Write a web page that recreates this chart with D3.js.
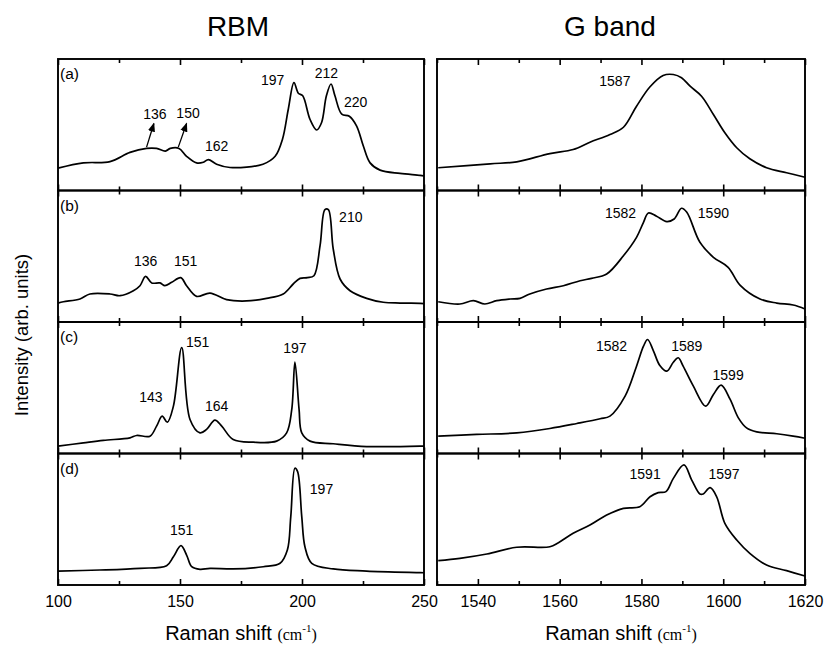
<!DOCTYPE html>
<html>
<head>
<meta charset="utf-8">
<script src="https://cdn.jsdelivr.net/npm/d3@7"></script>
<style>
  body { margin: 0; background: #fff; }
  text { font-family: Arial, "Liberation Sans", sans-serif; fill: #000; }
</style>
</head>
<body>
<div id="chart"></div>
<script>
// RBM spectra, [Raman shift, intensity (arb.)]
const rbmA = [[100,17],[110.4,21],[121.3,22],[129.5,29],[136.3,32],[140.4,32],[144,30],[146,32],[149.6,32],
  [152.7,26],[156.8,21],[159.6,21.5],[161.6,23.5],[165,20],[170.5,17.5],[184,20],[189,26],[192,39],[194.4,62],
  [196.7,82],[198.5,74],[200.3,72],[203.3,54],[206,46],[208,51.5],[210,72],[211.9,81],[213.5,72],[216.3,58],
  [219.4,56.5],[222.4,49],[225.1,34],[227.9,21],[232,15.5],[240.2,13],[248.4,11.5],[250,11]];
const rbmB = [[100,14.4],[102.2,15.4],[109,17.5],[113.1,21.3],[121.3,21.3],[125.4,20],[130.9,23.8],[133.6,27.6],
  [135.9,34.7],[138.4,29.7],[141.8,29.7],[143.8,27.6],[146.6,30.2],[150.3,33.7],[152.7,27.6],[156.8,19.5],
  [162.3,22],[169.1,17],[177.3,16],[185.5,18],[192.3,21.3],[196.4,28.9],[199.2,33.2],[202.2,33.7],[204.9,35.2],
  [207.4,58],[209.4,85.4],[210.8,85.4],[212.8,55.5],[215.6,32.7],[219.7,23.8],[226.5,18],[233.3,15],
  [240.2,14.4],[248.4,14.2],[250,14]];
const rbmC = [[100,5.6],[110.4,8.1],[118.6,10],[129.5,11.9],[132.2,13.7],[137.7,13.2],[140.4,20.8],[142.7,28.4],
  [144.8,23.8],[147.3,36],[150.7,80.6],[154.1,25.9],[158.2,15.7],[160.9,18.3],[164.3,25.4],[167.1,20.8],
  [171.8,10.6],[180,8.6],[189.6,9.4],[193.7,15.7],[195.8,33.5],[197.1,69.6],[198.8,33.5],[199.9,15.7],
  [203.3,9.4],[212.8,7.4],[226.5,5.3],[248.4,5.6],[250,5.6]];
const rbmD = [[100,10.6],[117.2,11.4],[133.6,12.7],[144.5,14.7],[147.3,21.5],[150.4,29.9],[152.7,22.8],
  [154.8,13.9],[158.2,11.9],[162.3,12.7],[171.8,12.2],[184.1,13.9],[191,16.5],[194,26.6],[195.4,52],
  [197.1,88.8],[198.2,86.2],[199.9,52],[201.2,29.1],[204,16.5],[212.8,12.2],[226.5,10.6],[248.4,9.4],[250,9.3]];

// G band spectra
const gA = [[1530.3,17.3],[1543,20.3],[1549.5,21.8],[1557.6,28.1],[1563.3,31.2],[1567.4,36.7],[1572.3,42.6],
  [1575.6,48.1],[1578.8,64.1],[1582.1,78.9],[1585.3,87.5],[1587.8,88.2],[1589.8,85.7],[1591.9,79.3],
  [1594.7,71.7],[1597.6,57.8],[1600.4,43.9],[1603.3,32.5],[1606.5,24.1],[1610.6,17.3],[1615.5,13.5],[1620,10.1]];
const gB = [[1530.3,15.4],[1535.6,13.7],[1538.9,16.2],[1541.7,13.7],[1544.6,16.2],[1547.9,17.5],[1550.3,18],
  [1552.7,21.3],[1556.8,25.1],[1560.9,27.6],[1565,31.4],[1567.8,33.2],[1571.5,36.5],[1575.6,50.4],
  [1578.8,64.4],[1580.5,75.8],[1581.7,82.9],[1583.7,80.4],[1586.2,76.3],[1588,78.3],[1589.8,86.5],
  [1591.1,83.4],[1594.3,60.6],[1597.6,49.2],[1601.2,41.6],[1604.1,28.1],[1609,17.5],[1613.1,14.4],
  [1617.1,12.9],[1620,9.9]];
const gC = [[1530.3,13.2],[1539.7,14.5],[1549.5,15.7],[1557.6,19],[1564.2,22.8],[1569.9,26.4],[1572.3,28.4],
  [1576,43.6],[1578.8,66.4],[1580.5,81.6],[1581.5,86.7],[1582.9,78.3],[1584.5,66.9],[1586.2,62.6],
  [1587.8,69.4],[1589,72.8],[1590.2,66.4],[1592.7,51.2],[1595.7,36],[1597.6,44.9],[1599.5,52],[1601.7,41.1],
  [1603.7,27.1],[1605.7,19.5],[1608.2,16.5],[1613.1,15],[1617.1,13.2],[1620,11.6]];
const gD = [[1530.3,18.5],[1535.6,20.3],[1542.2,23.6],[1549.5,28.7],[1557.6,29.1],[1559.7,32.2],[1563.3,39.3],
  [1567.4,45.6],[1571.5,53.2],[1575.6,58.3],[1579.6,59.5],[1582.1,67.1],[1584.1,70.2],[1586,71],
  [1587.8,81.1],[1590.4,91.3],[1592.3,79.8],[1594.3,69.2],[1595.1,69.2],[1596.8,74],[1598.4,67.1],
  [1600.4,46.9],[1603.3,34.2],[1606.5,24.1],[1610.6,15.2],[1615.5,10.9],[1620,6.8]];

const panelNames = ["(a)", "(b)", "(c)", "(d)"];
const rbmTicksMajor = [100, 150, 200, 250];
const rbmTicksMinor = [125, 175, 225];
const gTicksMajor = [1540, 1560, 1580, 1600, 1620];
const gTicksMinor = [1530, 1550, 1570, 1590, 1610];

// peak labels: [panel, text, shift, intensity]
const rbmLabels = [[0,"136",139.7,58],[0,"150",153.3,59],[0,"162",165,34],[0,"197",188,84],[0,"212",210,89],
  [0,"220",222,67],[1,"136",135.9,46],[1,"151",152.3,46],[1,"210",220,80],[2,"143",138.1,43],
  [2,"151",157.2,85],[2,"164",165,36],[2,"197",197.1,80],[3,"151",150.7,42],[3,"197",208,73]];
const rbmArrows = [[0,136.3,33,139.3,51],[0,149.3,33,152.7,51]];
const gLabels = [[0,"1587",1573.5,83],[1,"1582",1574.9,83],[1,"1590",1597.6,83],[2,"1582",1572.7,82],
  [2,"1589",1591.1,82],[2,"1599",1601.2,60],[3,"1591",1580.9,84],[3,"1597",1600.2,84]];

const width = 824, height = 647;
const top0 = 59, panelH = 131.5;

const svg = d3.select("#chart").append("svg")
  .attr("width", width).attr("height", height);

svg.append("defs").append("marker")
  .attr("id", "arrow").attr("viewBox", "0 0 10 10")
  .attr("refX", 9).attr("refY", 5)
  .attr("markerWidth", 7).attr("markerHeight", 7)
  .attr("orient", "auto")
  .append("path").attr("d", "M0,1 L10,5 L0,9 Z").attr("fill", "#000");

const xRbm = d3.scaleLinear().domain([100, 250]).range([58, 424]);
const xG = d3.scaleLinear().domain([1530, 1620]).range([437, 805]);

function drawColumn(x, series, major, minor, labels, arrows, title, titleX) {
  series.forEach((data, i) => {
    const y0 = top0 + i * panelH, y1 = y0 + panelH;
    const y = d3.scaleLinear().domain([0, 100]).range([y1, y0]);
    const g = svg.append("g");

    const line = d3.line()
      .x(d => x(d[0])).y(d => y(d[1]))
      .curve(d3.curveCatmullRom.alpha(0.5));
    g.append("path").datum(data)
      .attr("d", line).attr("fill", "none")
      .attr("stroke", "#000").attr("stroke-width", 1.7);

    // ticks pointing inward from top and bottom
    [[major, 6], [minor, 4]].forEach(([vals, len]) => {
      g.append("g").attr("transform", `translate(0,${y0})`)
        .call(d3.axisTop(x).tickValues(vals).tickSize(-len).tickFormat(""))
        .call(a => a.select(".domain").remove());
      const bottom = g.append("g").attr("transform", `translate(0,${y1})`)
        .call(d3.axisBottom(x).tickValues(vals).tickSize(-len)
          .tickFormat(i === 3 && len === 6 ? d3.format("d") : ""));
      bottom.select(".domain").remove();
    });
    g.selectAll(".tick line").attr("stroke", "#000").attr("stroke-width", 1.6);

    g.append("rect")
      .attr("x", x.range()[0]).attr("y", y0)
      .attr("width", x.range()[1] - x.range()[0]).attr("height", panelH)
      .attr("fill", "none").attr("stroke", "#000").attr("stroke-width", 1.9);

    if (x === xRbm) {
      g.append("text").attr("x", x.range()[0] + 2).attr("y", y0 + 20)
        .attr("font-size", 15.5).text(panelNames[i]);
    }

    labels.filter(l => l[0] === i).forEach(l => {
      g.append("text").attr("x", x(l[2])).attr("y", y(l[3]))
        .attr("dy", "0.35em").attr("text-anchor", "middle")
        .attr("font-size", 14).text(l[1]);
    });
    arrows.filter(a => a[0] === i).forEach(a => {
      g.append("line")
        .attr("x1", x(a[1])).attr("y1", y(a[2]))
        .attr("x2", x(a[3])).attr("y2", y(a[4]))
        .attr("stroke", "#000").attr("stroke-width", 1.3)
        .attr("marker-end", "url(#arrow)");
    });
  });

  svg.append("text").attr("x", titleX).attr("y", 36)
    .attr("text-anchor", "middle").attr("font-size", 28).text(title);

  const cx = (x.range()[0] + x.range()[1]) / 2;
  const xl = svg.append("text").attr("x", cx).attr("y", 640)
    .attr("text-anchor", "middle").attr("font-size", 20);
  xl.append("tspan").text("Raman shift ");
  xl.append("tspan").attr("font-family", "'Liberation Serif', 'DejaVu Serif', serif")
    .attr("font-size", 16).text("(cm");
  xl.append("tspan").attr("font-family", "'Liberation Serif', serif")
    .attr("font-size", 11).attr("dy", -8).text("-1");
  xl.append("tspan").attr("font-family", "'Liberation Serif', serif")
    .attr("font-size", 16).attr("dy", 8).text(")");
}

drawColumn(xRbm, [rbmA, rbmB, rbmC, rbmD], rbmTicksMajor, rbmTicksMinor, rbmLabels, rbmArrows, "RBM", 238);
drawColumn(xG, [gA, gB, gC, gD], gTicksMajor, gTicksMinor, gLabels, [], "G band", 610);

svg.selectAll(".tick text")
  .attr("font-size", 16).attr("font-family", "Arial, 'Liberation Sans', sans-serif")
  .attr("fill", "#000").attr("dy", "0.71em").attr("y", 11);

svg.append("text")
  .attr("transform", "translate(28,335) rotate(-90)")
  .attr("text-anchor", "middle").attr("font-size", 18.5)
  .text("Intensity (arb. units)");
</script>
</body>
</html>
